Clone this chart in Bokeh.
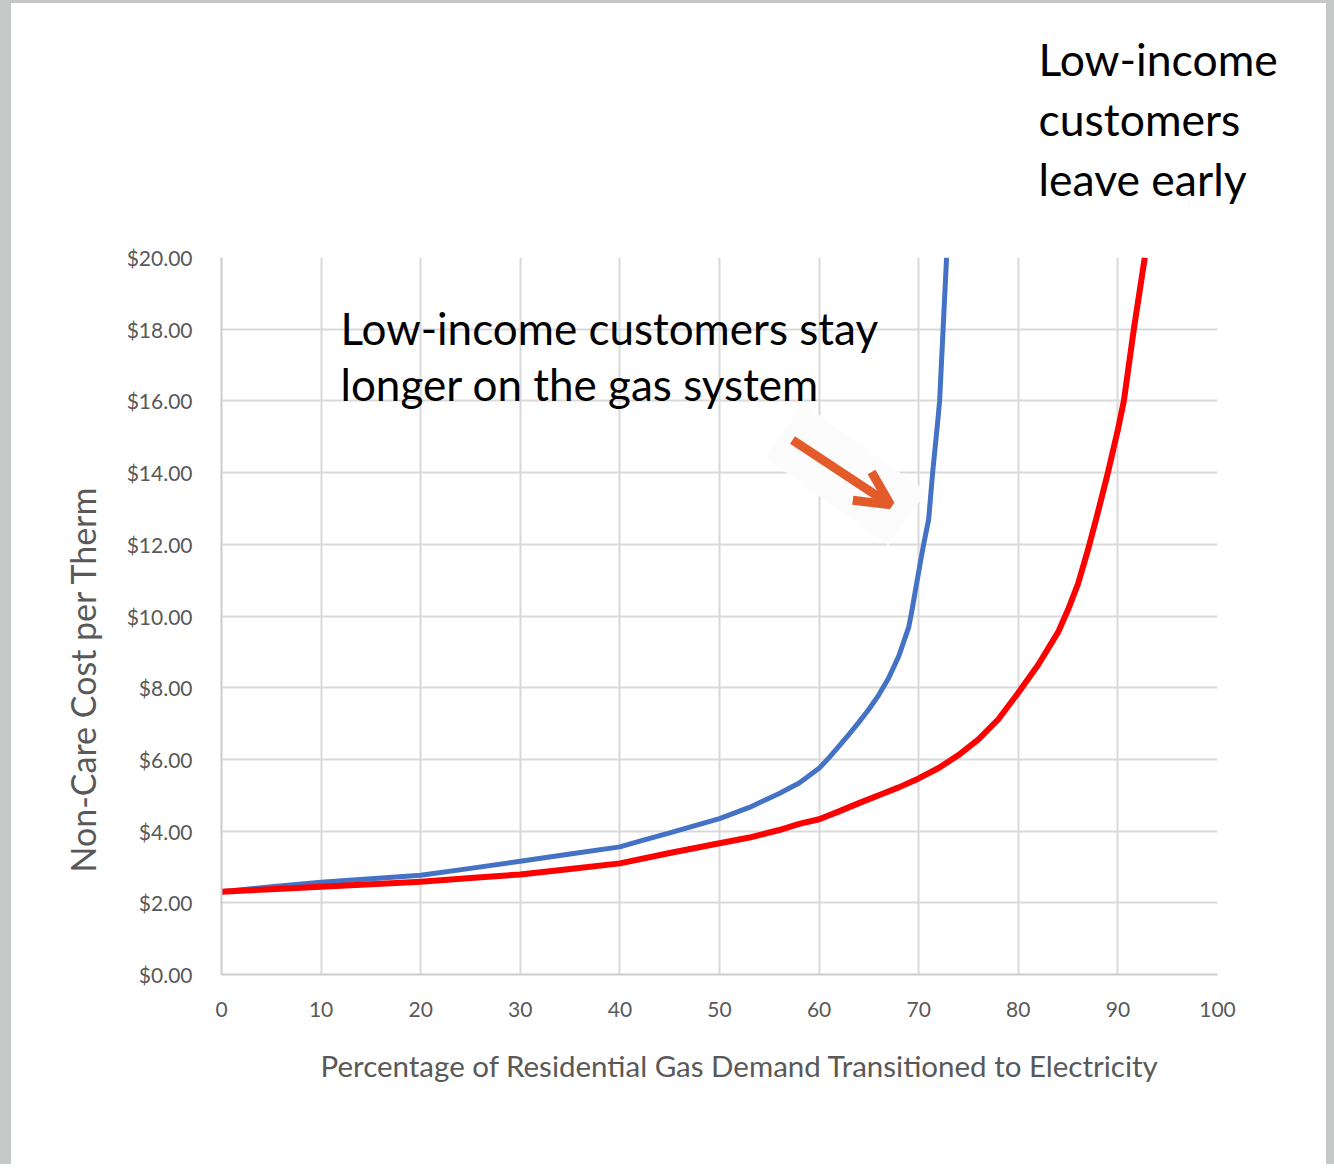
import math
from bokeh.plotting import figure
from bokeh.layouts import row, column
from bokeh.models import (Range1d, FixedTicker, NumeralTickFormatter, Label,
                          Arrow, OpenHead, Title, Spacer)
from bokeh.embed import file_html
from bokeh.resources import INLINE

# ---- data ----
blue_x = [0, 5, 10, 15, 20, 25, 30, 35, 40, 42, 45, 50, 53, 56, 58, 60, 61, 62, 63,
          64, 65, 66, 67, 68, 69, 69.3, 69.6, 70.2, 70.5, 71.0, 71.4, 71.9, 72.1, 72.45, 72.8]
blue_y = [2.31, 2.45, 2.57, 2.67, 2.77, 2.96, 3.16, 3.36, 3.56, 3.72, 3.95, 4.35, 4.66,
          5.05, 5.34, 5.75, 6.05, 6.37, 6.70, 7.04, 7.40, 7.80, 8.28, 8.88, 9.69,
          10.12, 10.6, 11.55, 12.0, 12.7, 14.0, 15.4, 16.0, 18.0, 20.0]

red_x = [0, 5, 10, 15, 20, 25, 30, 35, 40, 45, 50, 53, 56, 58, 60, 62, 64, 66,
         68, 70, 72, 74, 76, 78, 80, 82, 84, 85, 86, 87, 88, 89, 90, 90.6, 91.6, 92.7]
red_y = [2.31, 2.38, 2.45, 2.52, 2.59, 2.69, 2.79, 2.94, 3.10, 3.39, 3.66, 3.82,
         4.03, 4.20, 4.33, 4.55, 4.78, 5.00, 5.22, 5.47, 5.76, 6.12, 6.56, 7.12,
         7.86, 8.64, 9.55, 10.18, 10.9, 11.85, 12.9, 14.0, 15.2, 16.0, 18.0, 20.0]

x_ticks = [0, 10, 20, 30, 40, 50, 60, 70, 80, 90, 100]
y_ticks = [0, 2, 4, 6, 8, 10, 12, 14, 16, 18, 20]

x_title = "Percentage of Residential Gas Demand Transitioned to Electricity"
y_title = "Non-Care Cost per Therm"
note_lines = ["Low-income customers stay", "longer on the gas system"]
corner_lines = ["Low-income", "customers", "leave early"]

FONT = "Lato"
GRAY = "#595959"
EDGE = "#c6c8c7"

fig = figure(width=1315, height=1161, x_range=Range1d(0, 100), y_range=Range1d(0, 20),
             output_backend="svg", toolbar_location=None, title=None,
             min_border_left=210, min_border_right=109,
             min_border_top=254, min_border_bottom=190)
fig.outline_line_color = None
fig.background_fill_color = "white"
fig.border_fill_color = "white"

fig.xaxis.ticker = FixedTicker(ticks=x_ticks)
fig.yaxis.ticker = FixedTicker(ticks=y_ticks)
fig.yaxis.formatter = NumeralTickFormatter(format="$0.00")
for ax in (fig.xaxis[0], fig.yaxis[0]):
    ax.major_tick_line_color = None
    ax.minor_tick_line_color = None
    ax.axis_line_color = "#cccccc"
    ax.axis_line_width = 2
    ax.major_label_text_font = FONT
    ax.major_label_text_font_size = "21px"
    ax.major_label_text_color = GRAY
fig.yaxis.major_label_standoff = 23
fig.xaxis.major_label_standoff = 21

fig.xgrid.ticker = FixedTicker(ticks=x_ticks)
fig.ygrid.ticker = FixedTicker(ticks=y_ticks)
fig.grid.grid_line_color = "#d9d9d9"
fig.grid.grid_line_width = 2

# faint backing behind the hand-drawn arrow
fig.rect(x=[62.65], y=[13.95], width=152, height=66, width_units="screen",
         height_units="screen", angle=-0.618, fill_color="#fcfcfc", line_color=None)

fig.line(blue_x, blue_y, line_color="#4472C4", line_width=5, line_join="round")
fig.line(red_x, red_y, line_color="#FF0000", line_width=6, line_join="round")

fig.add_layout(Arrow(x_start=57.33, y_start=14.91, x_end=67.17, y_end=13.1,
                     line_color="#E35B2A", line_width=9,
                     end=OpenHead(size=34, line_color="#E35B2A", line_width=9)))

# axis titles (as side-panel titles so they are not clipped)
fig.add_layout(Title(text=y_title, align="left", offset=102, standoff=41,
                     vertical_align="bottom", text_font=FONT, text_font_size="34px",
                     text_font_style="normal", text_color=GRAY), "left")
fig.add_layout(Title(text=x_title, align="left", offset=99, standoff=56,
                     vertical_align="top", text_font=FONT, text_font_size="29.5px",
                     text_font_style="normal", text_color=GRAY), "below")

# note inside the plot area
for txt, yy in zip(note_lines, [18.04, 16.47]):
    fig.add_layout(Label(x=11.95, y=yy, text=txt, text_font=FONT, text_font_size="44px",
                         text_color="black", text_align="left", text_baseline="alphabetic"))

# corner note above the plot area: spacer first (closest to the frame)
fig.add_layout(Title(text=" ", text_font_size="1px", standoff=47), "above")
for txt in reversed(corner_lines):
    fig.add_layout(Title(text=txt, align="left", offset=817, standoff=5,
                         vertical_align="bottom", text_font=FONT, text_font_size="44.5px",
                         text_font_style="normal", text_color="black"), "above")

# grey page edges seen in the reference screenshot
top_edge = Spacer(width=1334, height=3, styles={"background-color": EDGE})
left_edge = Spacer(width=11, height=1161, styles={"background-color": EDGE})
right_edge = Spacer(width=8, height=1161, styles={"background-color": EDGE})

p = column(top_edge, row(left_edge, fig, right_edge, spacing=0), spacing=0)

open("out.html", "w").write(file_html(p, INLINE))
